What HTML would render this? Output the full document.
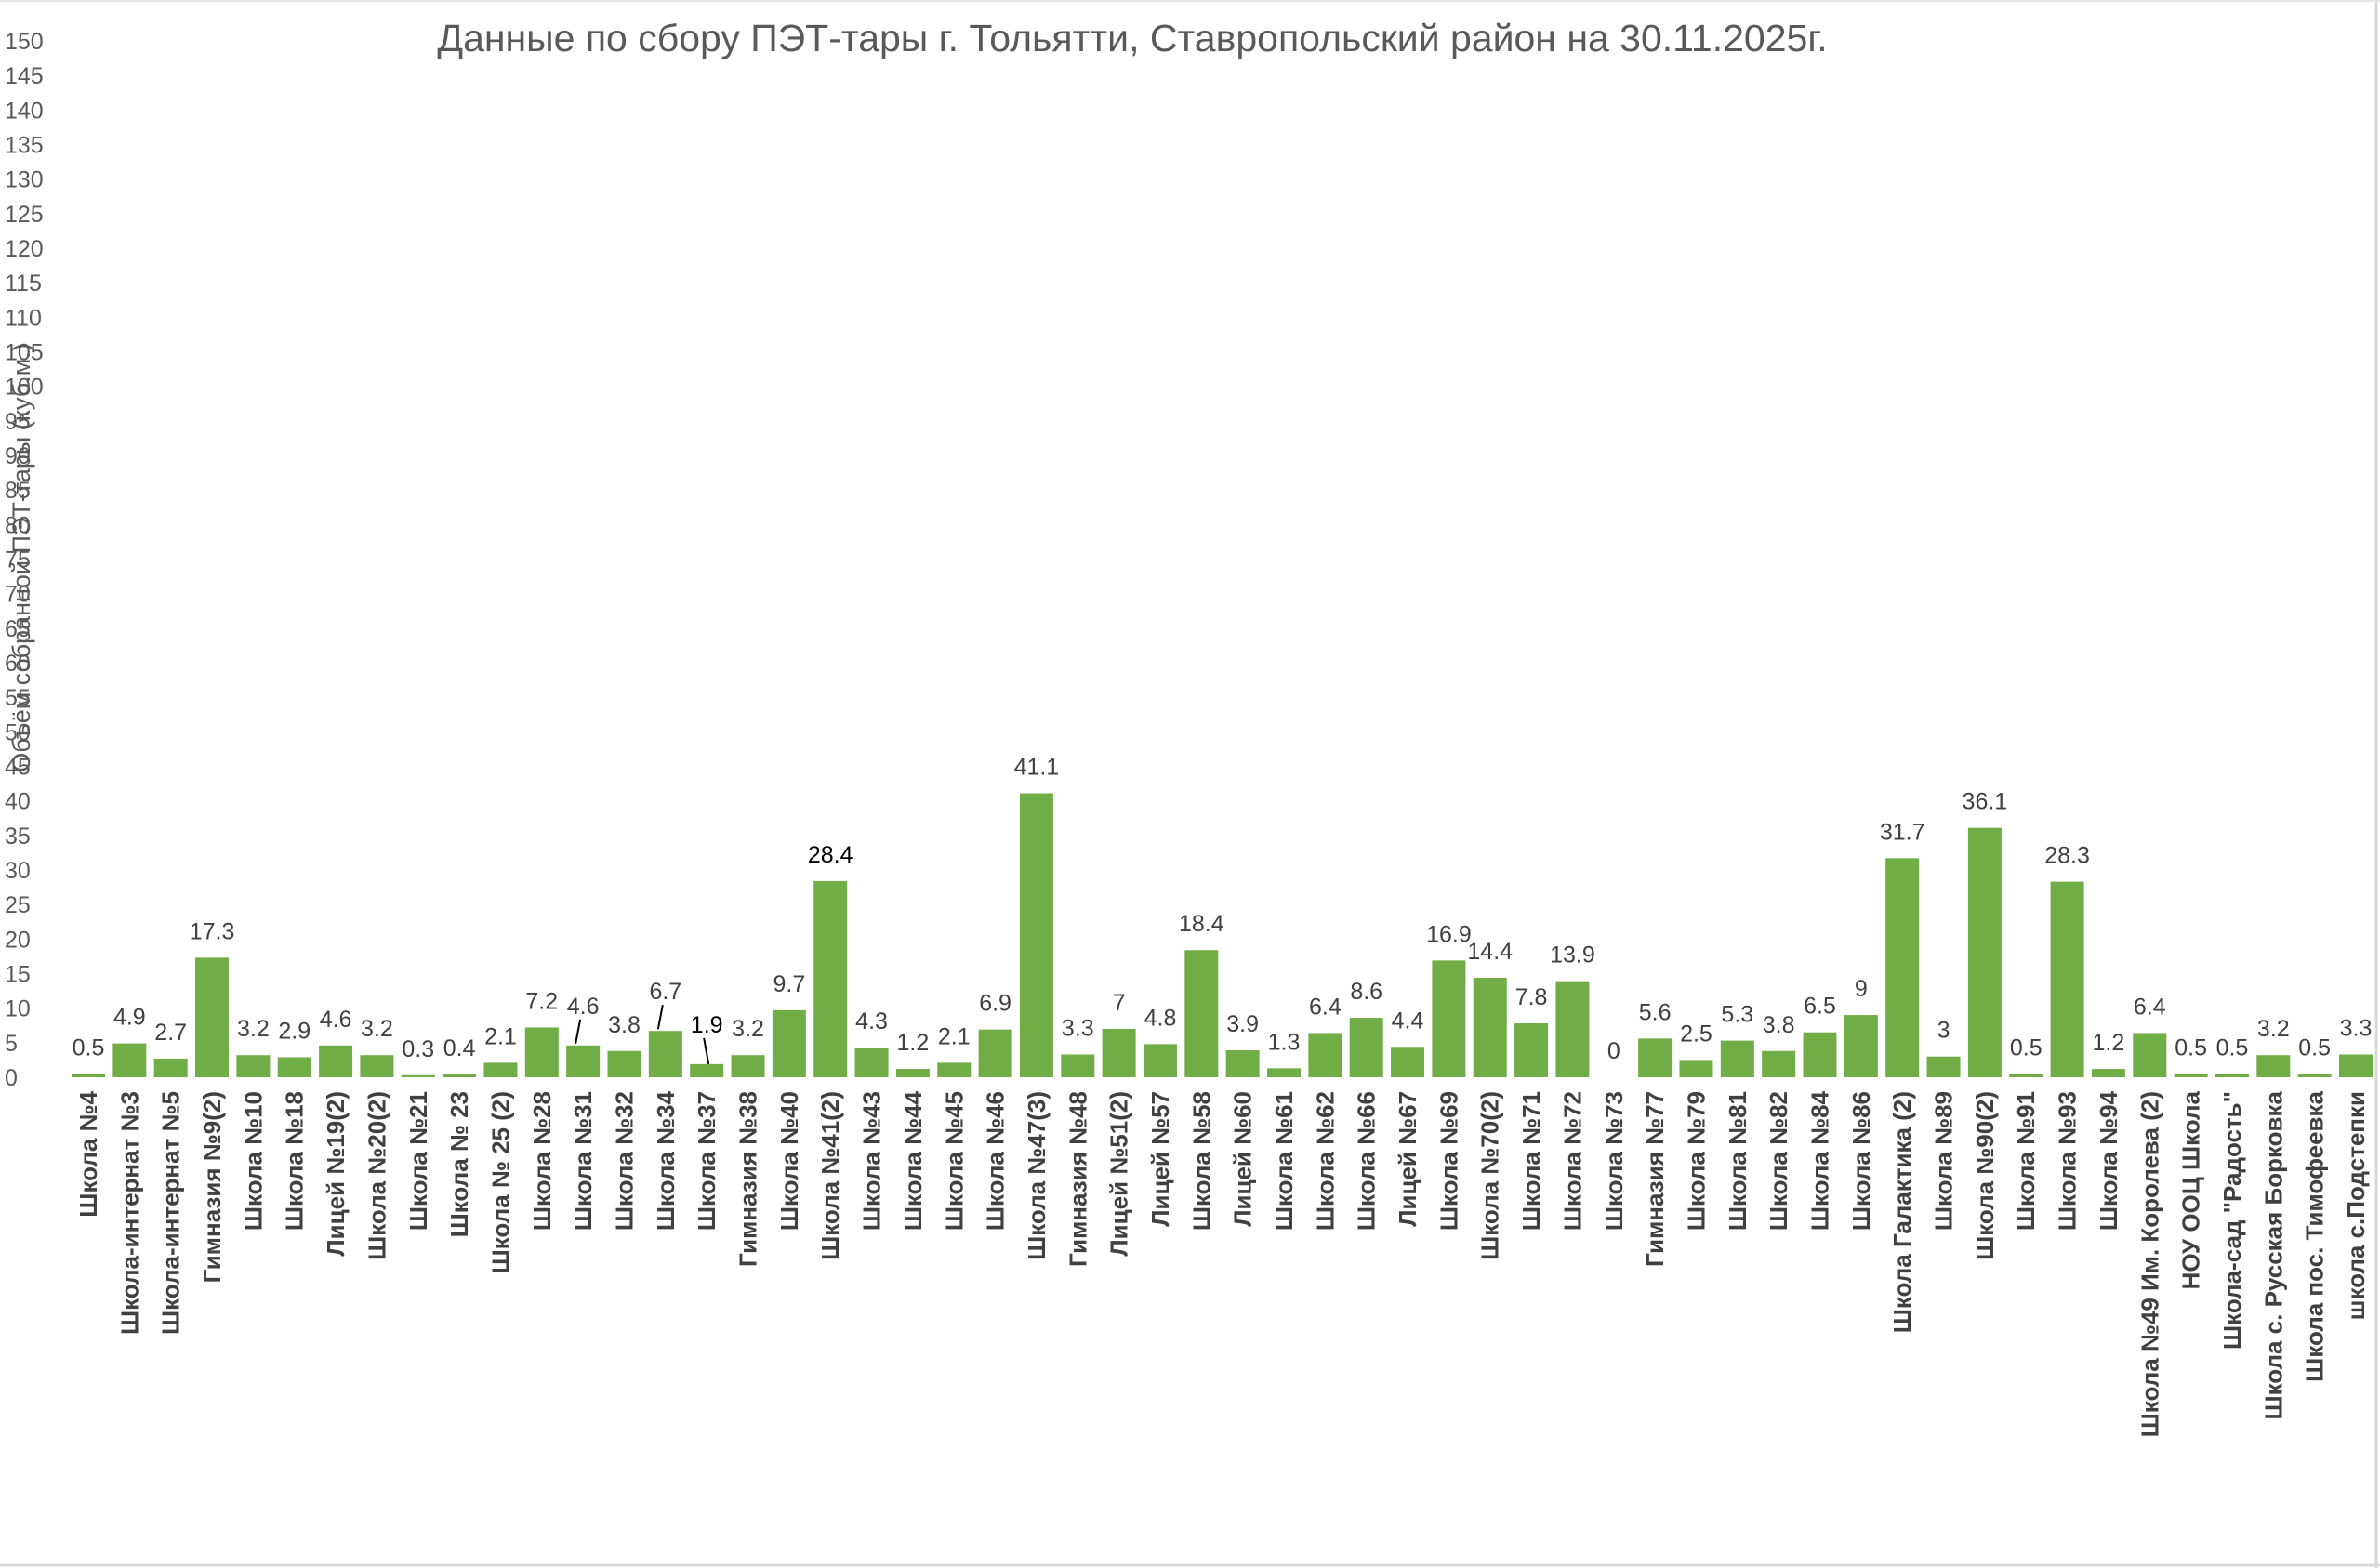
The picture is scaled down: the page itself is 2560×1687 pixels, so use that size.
<!DOCTYPE html>
<html><head><meta charset="utf-8"><style>
html,body{margin:0;padding:0;background:#fff;}
svg{display:block;}
</style></head><body>
<svg id="chart" width="2560" height="1687" viewBox="0 0 2560 1687" xmlns="http://www.w3.org/2000/svg">
<rect x="0" y="0" width="2560" height="1687" fill="#fff"/>
<line x1="2556" y1="0" x2="2556" y2="1687" stroke="#d9d9d9" stroke-width="3"/>
<line x1="0" y1="1684" x2="2560" y2="1684" stroke="#d9d9d9" stroke-width="3"/>
<line x1="0" y1="1" x2="2560" y2="1" stroke="#e6e6e6" stroke-width="2"/>
<text x="1218" y="55" text-anchor="middle" font-family="Liberation Sans, sans-serif" font-size="41" fill="#595959">Данные по сбору ПЭТ-тары г. Тольятти, Ставропольский район на 30.11.2025г.</text>
<text transform="translate(32,600) rotate(-90)" text-anchor="middle" font-family="Liberation Sans, sans-serif" font-size="27" fill="#595959">Объём собранной ПЭТ-тары (куб.м.)</text>
<g id="yaxis"></g>
<g id="bars"></g>
<g id="vlabels"></g>
<g id="xlabels"></g>
</svg>
<script>
const categories = ["Школа №4","Школа-интернат №3","Школа-интернат №5","Гимназия №9(2)","Школа №10","Школа №18","Лицей №19(2)","Школа №20(2)","Школа №21","Школа № 23","Школа № 25 (2)","Школа №28","Школа №31","Школа №32","Школа №34","Школа №37","Гимназия №38","Школа №40","Школа №41(2)","Школа №43","Школа №44","Школа №45","Школа №46","Школа №47(3)","Гимназия №48","Лицей №51(2)","Лицей №57","Школа №58","Лицей №60","Школа №61","Школа №62","Школа №66","Лицей №67","Школа №69","Школа №70(2)","Школа №71","Школа №72","Школа №73","Гимназия №77","Школа №79","Школа №81","Школа №82","Школа №84","Школа №86","Школа Галактика (2)","Школа №89","Школа №90(2)","Школа №91","Школа №93","Школа №94","Школа №49 Им. Королева (2)","НОУ ООЦ Школа","Школа-сад \"Радость\"","Школа с. Русская Борковка","Школа пос. Тимофеевка","школа с.Подстепки"];
const values = [0.5,4.9,2.7,17.3,3.2,2.9,4.6,3.2,0.3,0.4,2.1,7.2,4.6,3.8,6.7,1.9,3.2,9.7,28.4,4.3,1.2,2.1,6.9,41.1,3.3,7,4.8,18.4,3.9,1.3,6.4,8.6,4.4,16.9,14.4,7.8,13.9,0,5.6,2.5,5.3,3.8,6.5,9,31.7,3,36.1,0.5,28.3,1.2,6.4,0.5,0.5,3.2,0.5,3.3];
const yTicks = [0,5,10,15,20,25,30,35,40,45,50,55,60,65,70,75,80,85,90,95,100,105,110,115,120,125,130,135,140,145,150];
const leaderIdx = [12,14,15];

const NS="http://www.w3.org/2000/svg";
const y0=1159, yTop=44, vmax=150;
const yScale=v=>y0-(v/vmax)*(y0-yTop);
const x0=95, step=(2534-95)/55, bw=36;
const xScale=i=>x0+i*step;
function mk(tag,attrs,parent,txt){const e=document.createElementNS(NS,tag);for(const k in attrs)e.setAttribute(k,attrs[k]);if(txt!==undefined)e.textContent=txt;parent.appendChild(e);return e;}
const gy=document.getElementById('yaxis'),gb=document.getElementById('bars'),gv=document.getElementById('vlabels'),gx=document.getElementById('xlabels');
yTicks.forEach(t=>{
  const e=mk('text',{x:5,y:yScale(t)+9,'font-family':'Liberation Sans, sans-serif','font-size':25,fill:'#595959'},gy,String(t));
  
  
});
values.forEach((v,i)=>{
  const cx=xScale(i);
  const r=mk('rect',{x:cx-bw/2,y:yScale(v),width:bw,height:Math.max(0,y0-yScale(v)),fill:'#70ad47'},gb);
  
  
  const extra=leaderIdx.includes(i)?14:0;
  const ly=yScale(v)-20-extra;
  const col=(i===15||i===18)?'#000':'#404040';
  const t=mk('text',{x:cx,y:ly,'text-anchor':'middle','font-family':'Liberation Sans, sans-serif','font-size':25,fill:col},gv,String(v));
  
  
  if(extra){
    const l=mk('line',{x1:cx-3,y1:ly+6,x2:cx+(i===15?2:-8),y2:yScale(v)-(i===15?0:2),stroke:'#000','stroke-width':2},gv);
    
    
  }
  const c=mk('text',{transform:'translate('+(cx+9)+',1174) rotate(-90)','text-anchor':'end','font-family':'Liberation Sans Narrow, Liberation Sans, sans-serif','font-weight':'bold','font-size':26,fill:'#404040'},gx,categories[i]);
  
  
});
</script>
</body></html>
